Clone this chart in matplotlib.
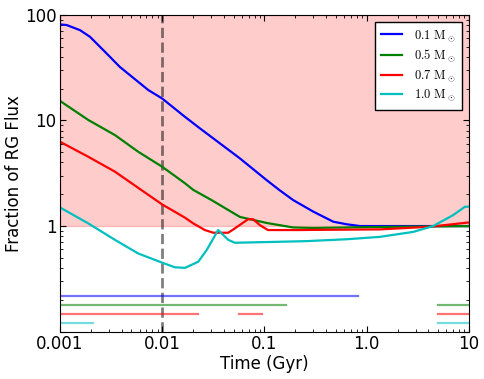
import matplotlib
matplotlib.use("Agg")
import matplotlib.pyplot as plt
from matplotlib.ticker import FixedLocator, FixedFormatter, NullFormatter

plt.rcParams["mathtext.fontset"] = "cm"
plt.rcParams["xtick.direction"] = "in"
plt.rcParams["ytick.direction"] = "in"
plt.rcParams["xtick.top"] = True
plt.rcParams["ytick.right"] = True
plt.rcParams["font.size"] = 12

# fraction of RG flux vs time
t_01 = [0.001, 0.00116, 0.00157, 0.00196, 0.00286, 0.00386, 0.0073, 0.01, 0.0167,
        0.0234, 0.0575, 0.105, 0.14, 0.191, 0.3, 0.47, 0.635, 0.86, 1.0, 10.0]
f_01 = [81, 80, 71.5, 62, 43, 32, 19.4, 16.1, 10.8,
        8.4, 4.37, 2.72, 2.19, 1.76, 1.37, 1.1, 1.04, 1.0, 1.0, 1.0]

t_05 = [0.001, 0.00189, 0.00345, 0.00582, 0.01, 0.0167, 0.0201, 0.0304, 0.0575,
        0.105, 0.19, 0.3, 1.34, 10.0]
f_05 = [15.3, 10.1, 7.26, 5.05, 3.64, 2.54, 2.2, 1.76, 1.22,
        1.07, 0.97, 0.96, 0.98, 1.0]

t_07 = [0.001, 0.00189, 0.00345, 0.00582, 0.01, 0.0167, 0.0201, 0.0261, 0.0315,
        0.0442, 0.0513, 0.069, 0.0776, 0.0902, 0.108, 0.221, 0.3, 1.34, 4.14, 9.8, 10.0]
f_07 = [6.28, 4.53, 3.27, 2.3, 1.6, 1.2, 1.06, 0.917, 0.865,
        0.865, 0.95, 1.16, 1.16, 1.02, 0.917, 0.917, 0.92, 0.93, 0.985, 1.08, 1.08]

t_10 = [0.001, 0.00189, 0.00345, 0.00582, 0.01, 0.0133, 0.0167, 0.0225, 0.0272,
        0.0352, 0.0442, 0.0513, 0.14, 0.257, 0.635, 1.34, 2.84, 4.46, 7.0, 9.1, 10.0]
f_10 = [1.5, 1.06, 0.74, 0.55, 0.45, 0.407, 0.402, 0.46, 0.593,
        0.917, 0.74, 0.695, 0.71, 0.72, 0.75, 0.79, 0.88, 1.0, 1.27, 1.52, 1.53]

labels = [r"$0.1\ \mathrm{M}_\odot$", r"$0.5\ \mathrm{M}_\odot$",
          r"$0.7\ \mathrm{M}_\odot$", r"$1.0\ \mathrm{M}_\odot$"]
colors = ["b", "g", "r", "c"]

# time ranges marked at the bottom (one row per mass)
seg_y = [0.219, 0.18, 0.148, 0.122]
seg_ranges = [
    [(0.001, 0.824)],
    [(0.001, 0.161), (5.0, 10.0)],
    [(0.001, 0.0225), (0.0566, 0.0935), (5.0, 10.0)],
    [(0.001, 0.00212), (5.0, 10.0)],
]

fig = plt.figure(figsize=(4.85, 3.79), dpi=100)
ax = fig.add_axes([0.1237, 0.1248, 0.967 - 0.1237, 0.961 - 0.1248])

ax.axhspan(1, 100, facecolor="r", edgecolor="r", alpha=0.2, lw=1)
ax.axvline(0.01, color="k", alpha=0.5, ls="--", lw=2)

for t, f, c, lab in zip([t_01, t_05, t_07, t_10], [f_01, f_05, f_07, f_10], colors, labels):
    ax.plot(t, f, color=c, lw=1.6, label=lab)

for y, ranges, c in zip(seg_y, seg_ranges, colors):
    for x0, x1 in ranges:
        ax.plot([x0, x1], [y, y], color=c, alpha=0.55, lw=1.6)

ax.set_xscale("log")
ax.set_yscale("log")
ax.set_xlim(0.001, 10)
ax.set_ylim(0.1, 100)

ax.xaxis.set_major_locator(FixedLocator([0.001, 0.01, 0.1, 1.0, 10]))
ax.xaxis.set_major_formatter(FixedFormatter(["0.001", "0.01", "0.1", "1.0", "10"]))
ax.xaxis.set_minor_formatter(NullFormatter())
ax.yaxis.set_major_locator(FixedLocator([0.1, 1, 10, 100]))
ax.yaxis.set_major_formatter(FixedFormatter(["", "1", "10", "100"]))
ax.yaxis.set_minor_formatter(NullFormatter())
ax.tick_params(which="major", length=4, labelsize=12)
ax.tick_params(axis="x", which="major", pad=2.5)
ax.tick_params(axis="y", which="major", pad=2.5)
ax.tick_params(which="minor", length=2)

ax.set_xlabel("Time (Gyr)", fontsize=12, labelpad=1)
ax.set_ylabel("Fraction of RG Flux", fontsize=12, labelpad=1.5)

leg = ax.legend(loc="upper right", fontsize=9, fancybox=False, framealpha=1,
                edgecolor="k", handlelength=1.65, handletextpad=1.0,
                borderpad=0.5, labelspacing=0.32, borderaxespad=0.55)
leg.get_frame().set_linewidth(1)

fig.savefig("out.png", dpi=100)
